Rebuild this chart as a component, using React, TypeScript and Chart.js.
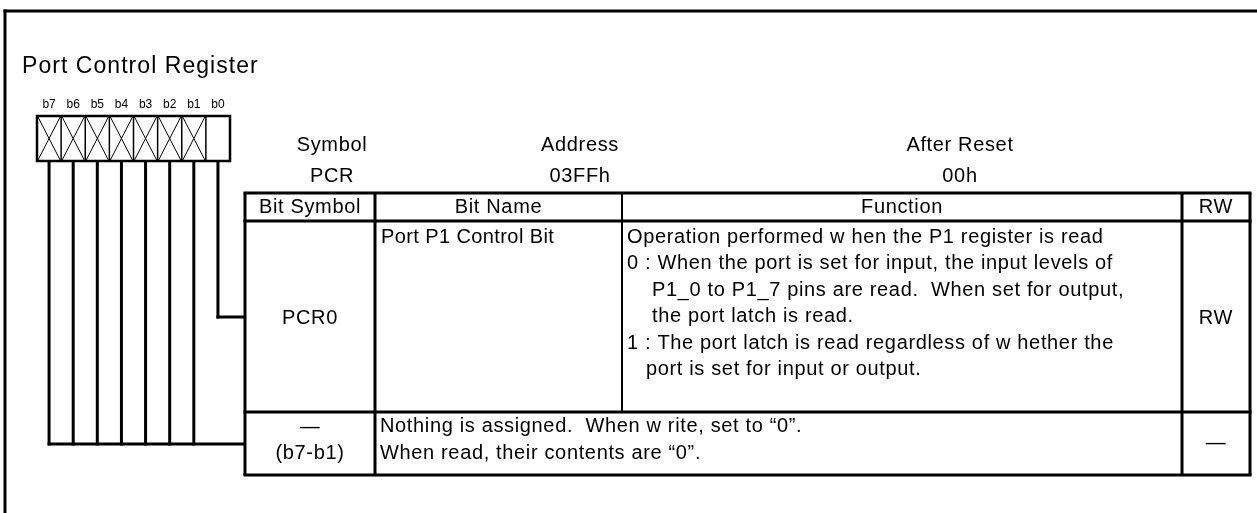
import React, { useEffect, useRef } from "react";
import { Chart, registerables } from "chart.js";

Chart.register(...registerables);

// ---------- data ----------
const TITLE = "Port Control Register";
const bitLabels = ["b7", "b6", "b5", "b4", "b3", "b2", "b1", "b0"];
const reservedBits = [true, true, true, true, true, true, true, false];
const infoLabels = ["Symbol", "Address", "After Reset"];
const infoValues = ["PCR", "03FFh", "00h"];
const columnHeaders = ["Bit Symbol", "Bit Name", "Function", "RW"];
const rowBitSymbols = [["PCR0"], ["—", "(b7-b1)"]];
const rowBitNames = ["Port P1 Control Bit", ""];
const rowFunctions = [
  [
    "Operation performed w hen the P1 register is read",
    "0 : When the port is set for input, the input levels of",
    "P1_0 to P1_7 pins are read.  When set for output,",
    "the port latch is read.",
    "1 : The port latch is read regardless of w hether the",
    "port is set for input or output.",
  ],
  [
    "Nothing is assigned.  When w rite, set to “0”.",
    "When read, their contents are “0”.",
  ],
];
const rowRW = ["RW", "—"];

// ---------- layout (diagram units = px) ----------
const W = 1257;
const H = 513;
const FRAME_X = 5;
const FRAME_Y = 11;
const BOX = { x0: 37, x1: 230, y0: 116, y1: 161 };
const BIT_LABEL_Y = 108;
const TABLE_X = [245, 375, 622, 1182, 1250];
const TABLE_Y = [193, 221, 412, 475];
const INFO_X = [332, 580, 960];
const INFO_Y = [151, 182];
const B0_LEADER_Y = 317;
const REST_LEADER_Y = 444;
const FUNC_INDENT = [
  [627, 627, 652, 652, 627, 646],
  [380, 380],
];
const FUNC_BASE = [243, 432];
const FUNC_STEP = [26.4, 26.5];
const SYM_BASE = [[324], [433, 459]];
const RW_BASE = [324, 449];
const FONT = '"Liberation Sans", Arial, sans-serif';
const SP = 0.65;

const diagramPlugin = {
  id: "registerDiagram",
  afterDraw(chart: any) {
    const { ctx, scales } = chart;
    const px = (v: number) => scales.x.getPixelForValue(v);
    const py = (v: number) => scales.y.getPixelForValue(v);
    const line = (x0: number, y0: number, x1: number, y1: number, w = 3) => {
      ctx.beginPath();
      ctx.lineWidth = w;
      ctx.moveTo(px(x0), py(y0));
      ctx.lineTo(px(x1), py(y1));
      ctx.stroke();
    };
    const text = (
      s: string,
      x: number,
      y: number,
      size: number,
      align: CanvasTextAlign = "left",
      spacing = 0
    ) => {
      ctx.font = `${size}px ${FONT}`;
      ctx.textAlign = align;
      ctx.textBaseline = "alphabetic";
      (ctx as any).letterSpacing = `${spacing}px`;
      ctx.fillText(s, px(x), py(y));
      (ctx as any).letterSpacing = "0px";
    };

    ctx.save();
    ctx.strokeStyle = "#000";
    ctx.fillStyle = "#000";
    ctx.lineCap = "butt";

    // outer frame (left + top)
    line(FRAME_X, FRAME_Y - 1.5, FRAME_X, H, 3);
    line(FRAME_X - 1.5, FRAME_Y, W, FRAME_Y, 3);

    // title
    text(TITLE, 22, 73, 23, "left", 1.05);

    // bit labels + register cells
    const cw = (BOX.x1 - BOX.x0) / bitLabels.length;
    bitLabels.forEach((b, i) => {
      const cx = BOX.x0 + cw * (i + 0.5);
      text(b, cx, BIT_LABEL_Y, 12, "center");
      const x0 = BOX.x0 + cw * i;
      const x1 = x0 + cw;
      if (reservedBits[i]) {
        line(x0 + 1, BOX.y0 + 1, x1 - 1, BOX.y1 - 1, 1);
        line(x1 - 1, BOX.y0 + 1, x0 + 1, BOX.y1 - 1, 1);
      }
      if (i > 0) line(x0, BOX.y0, x0, BOX.y1, 1.5);
      // leader line
      const endY = reservedBits[i] ? REST_LEADER_Y : B0_LEADER_Y;
      line(cx, BOX.y1, cx, endY + 1.5, 3);
    });
    ctx.lineWidth = 2.5;
    ctx.strokeRect(px(BOX.x0), py(BOX.y0), px(BOX.x1) - px(BOX.x0), py(BOX.y1) - py(BOX.y0));
    // horizontal leaders
    const firstCx = BOX.x0 + cw * 0.5;
    const lastCx = BOX.x0 + cw * (bitLabels.length - 0.5);
    line(firstCx - 1.5, REST_LEADER_Y, TABLE_X[0], REST_LEADER_Y, 3);
    line(lastCx - 1.5, B0_LEADER_Y, TABLE_X[0], B0_LEADER_Y, 3);

    // info header
    infoLabels.forEach((s, i) => {
      text(s, INFO_X[i], INFO_Y[0], 20, "center", SP);
      text(infoValues[i], INFO_X[i], INFO_Y[1], 20, "center", SP);
    });

    // table grid
    const tx0 = TABLE_X[0];
    const tx1 = TABLE_X[TABLE_X.length - 1];
    TABLE_Y.forEach((y) => line(tx0 - 1.5, y, tx1 + 1.5, y, 3));
    TABLE_X.forEach((x, i) => {
      if (i === 2) {
        line(x, TABLE_Y[0], x, TABLE_Y[2], 2);
      } else {
        line(x, TABLE_Y[0], x, TABLE_Y[3], 3);
      }
    });

    // column headers
    const headerBase = 213;
    columnHeaders.forEach((h, i) => {
      text(h, (TABLE_X[i] + TABLE_X[i + 1]) / 2, headerBase, 20, "center", SP);
    });

    // rows
    rowBitSymbols.forEach((syms, r) => {
      syms.forEach((s, k) => {
        text(s, (TABLE_X[0] + TABLE_X[1]) / 2, SYM_BASE[r][k], 20, "center", SP);
      });
      if (rowBitNames[r]) text(rowBitNames[r], 381, 243, 20, "left", 0.4);
      rowFunctions[r].forEach((s, k) => {
        text(s, FUNC_INDENT[r][k], FUNC_BASE[r] + FUNC_STEP[r] * k, 20, "left", SP);
      });
      text(rowRW[r], (TABLE_X[3] + TABLE_X[4]) / 2, RW_BASE[r], 20, "center", SP);
    });

    ctx.restore();
  },
};

export default function App() {
  const ref = useRef<HTMLCanvasElement | null>(null);
  useEffect(() => {
    if (!ref.current) return;
    const chart = new Chart(ref.current, {
      type: "scatter",
      data: { datasets: [{ data: [], pointRadius: 0 }] },
      options: {
        animation: false,
        responsive: false,
        devicePixelRatio: 1,
        layout: { padding: 0 },
        plugins: { legend: { display: false }, tooltip: { enabled: false } },
        scales: {
          x: { type: "linear", min: 0, max: W, display: false },
          y: { type: "linear", min: 0, max: H, reverse: true, display: false },
        },
      },
      plugins: [diagramPlugin],
    });
    return () => chart.destroy();
  }, []);
  return (
    <div style={{ position: "fixed", left: 0, top: 0, width: W, height: H, background: "#fff" }}>
      <canvas ref={ref} width={W} height={H} style={{ display: "block" }} />
    </div>
  );
}
